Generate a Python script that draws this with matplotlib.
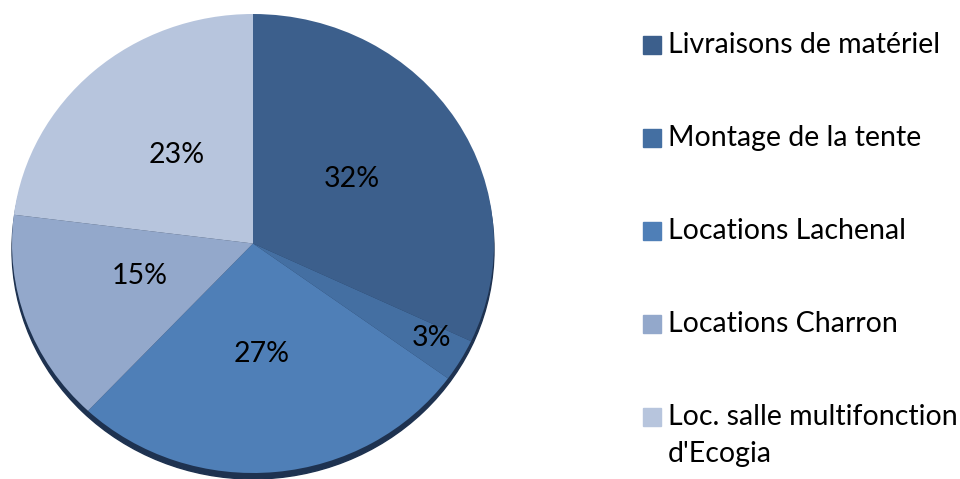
import matplotlib
matplotlib.use('Agg')
import matplotlib.pyplot as plt
from matplotlib.patches import Ellipse, Rectangle

# Data
categories = ['Livraisons de matériel', 'Montage de la tente', 'Locations Lachenal',
              'Locations Charron', "Loc. salle multifonction\nd'Ecogia"]
shares = [32, 3, 27, 15, 23]
colors = ['#3C5F8C', '#446FA2', '#4F7FB7', '#93A8CB', '#B7C5DD']

plt.rcParams['font.family'] = ['Lato', 'DejaVu Sans']

W, H = 960, 479
fig = plt.figure(figsize=(W / 100, H / 100), dpi=100)

# pie is slightly flattened: rx 241 px, ry 229 px, centred at (253, 243) from top-left
cx, cy, rx, ry = 253, 243.5, 241, 229.5
ax = fig.add_axes([0, 0, 1, 1])

wedges, texts, autotexts = ax.pie(
    shares, colors=colors, startangle=90, counterclock=False, radius=1,
    autopct='%1.0f%%', pctdistance=0.5,
    textprops={'fontsize': 20.5, 'color': 'black'},
    wedgeprops={'linewidth': 0})
for w in wedges:
    w.set_zorder(1)

# dark rim underneath (3D effect)
ax.add_patch(Ellipse((0, -6 / ry), 2, 2, color='#1E3250', zorder=0))

ax.set_aspect('auto')
ax.set_xlim(-cx / rx, (W - cx) / rx)
ax.set_ylim(-(H - cy) / ry, cy / ry)
ax.axis('off')

# label positions as Excel placed them
autotexts[0].set_position((0.41, 0.28))
autotexts[1].set_position((0.74, -0.41))
autotexts[2].set_position((0.037, -0.48))
autotexts[3].set_position((-0.47, -0.14))
autotexts[4].set_position((-0.315, 0.386))
for t in autotexts:
    t.set_zorder(3)

# Legend drawn by hand
y0, step, line_h = 45, 93, 37
for i, (name, c) in enumerate(zip(categories, colors)):
    y = y0 + i * step
    fig.patches.append(Rectangle((643 / W, 1 - (y + 9) / H), 18 / W, 18 / H,
                                 transform=fig.transFigure, color=c))
    for j, line in enumerate(name.split('\n')):
        fig.text(668 / W, 1 - (y + j * line_h) / H, line, fontsize=20.5,
                 va='center', ha='left')

fig.savefig('out.png', dpi=100)
